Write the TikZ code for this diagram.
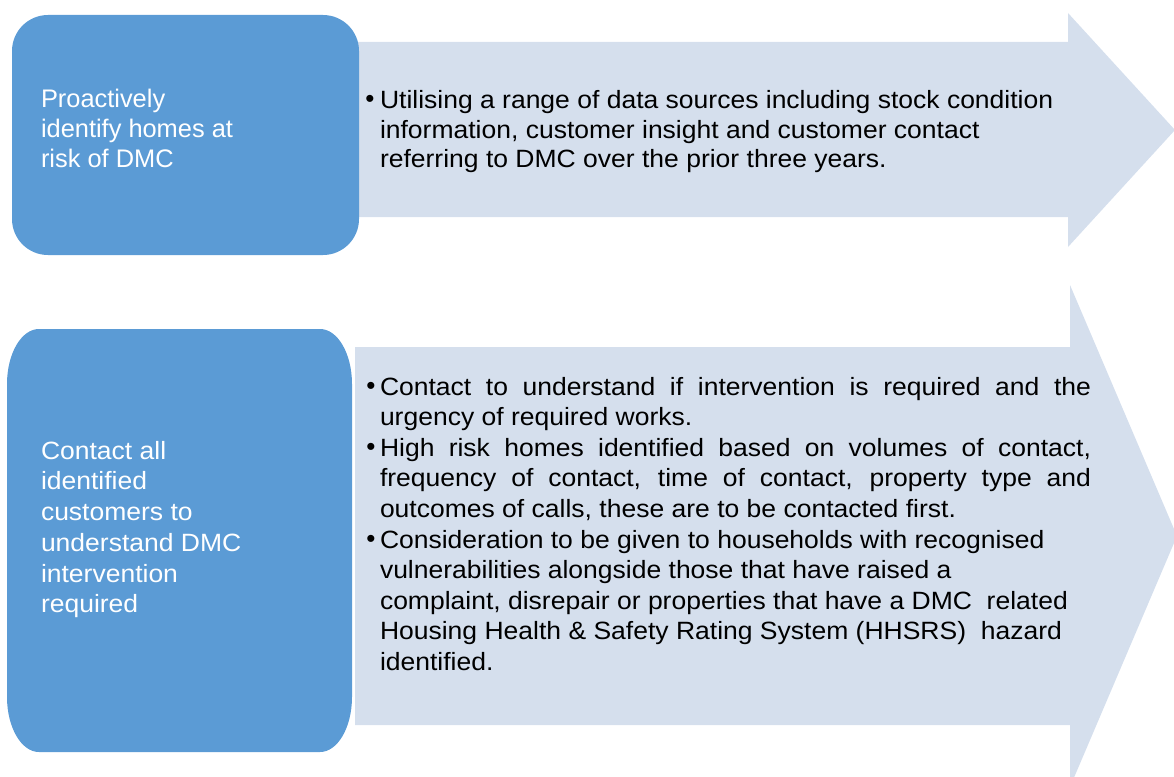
\documentclass[tikz,border=0pt]{standalone}
\usepackage{fontspec}
\setmainfont{Liberation Sans}
\newfontfamily\widefont[FakeStretch=1.06]{Liberation Sans}
\definecolor{boxblue}{HTML}{5B9BD5}
\definecolor{arrowfill}{HTML}{D5DFED}
\newcommand\mainfs{\widefont\fontsize{25}{30}\selectfont}
\newcommand\topfs{\fontsize{25.4}{30}\selectfont}
\newcommand\bulfs{\fontsize{26}{26}\selectfont}
\newcommand\jline[1]{\makebox[711pt][s]{#1}}
\tikzset{
  txtline/.style={anchor=base west, inner sep=0pt, outer sep=0pt, font=\mainfs, text=black},
  wline/.style={txtline, text=white},
  twline/.style={wline, font=\topfs},
  bulnode/.style={anchor=base, inner sep=0pt, outer sep=0pt, font=\bulfs, text=black},
}
\begin{document}
\begin{tikzpicture}[x=1pt,y=-1pt]
\useasboundingbox (0,0) rectangle (1174,776);
\clip (0,0) rectangle (1174,776);
% arrows
\fill[arrowfill] (358,42) -- (1068,42) -- (1068,13) -- (1175,130) -- (1068,247) -- (1068,217) -- (358,217) -- cycle;
\fill[arrowfill] (355,347) -- (1070,347) -- (1070,285) -- (1177,536) -- (1070,787) -- (1070,725) -- (355,725) -- cycle;
% blue boxes
\fill[boxblue] (48,15) -- (323,15) arc[start angle=-90,end angle=0,x radius=36,y radius=36]
  -- (359,219) arc[start angle=0,end angle=90,x radius=36,y radius=36]
  -- (48,255) arc[start angle=90,end angle=180,x radius=36,y radius=36]
  -- (12,51) arc[start angle=180,end angle=270,x radius=36,y radius=36] -- cycle;
\fill[boxblue] (39,329) -- (320,329) arc[start angle=-90,end angle=0,x radius=32,y radius=55]
  -- (352,697) arc[start angle=0,end angle=90,x radius=32,y radius=55]
  -- (39,752) arc[start angle=90,end angle=180,x radius=32,y radius=55]
  -- (7,384) arc[start angle=180,end angle=270,x radius=32,y radius=55] -- cycle;
% left texts
\node[twline] (a1) at (41,107) {Proactively};
\node[twline] (a2) at (41,137) {identify homes at};
\node[twline] (a3) at (41,167) {risk of DMC};
\node[wline] (b1) at (41,459) {Contact all};
\node[wline] (b2) at (41,489) {identified};
\node[wline] (b3) at (41,520) {customers to};
\node[wline] (b4) at (41,551) {understand DMC};
\node[wline] (b5) at (41,582) {intervention};
\node[wline] (b6) at (41,612) {required};
% top arrow text
\node[bulnode] (u0) at (370,107) {•};
\node[txtline] (u1) at (380,108) {Utilising a range of data sources including stock condition};
\node[txtline] (u2) at (380,138) {information, customer insight and customer contact};
\node[txtline] (u3) at (380,167) {referring to DMC over the prior three years.};
% bottom arrow text
\node[bulnode] (v0) at (371,394) {•};
\node[txtline] (v1) at (380,395) {\jline{Contact to understand if intervention is required and the}};
\node[txtline] (v2) at (380,425.6) {urgency of required works.};
\node[bulnode] (w0) at (371,455.2) {•};
\node[txtline] (w1) at (380,456.2) {\jline{High risk homes identified based on volumes of contact,}};
\node[txtline] (w2) at (380,486.8) {\jline{frequency of contact, time of contact, property type and}};
\node[txtline] (w3) at (380,517.4) {outcomes of calls, these are to be contacted first.};
\node[bulnode] (x0) at (371,547) {•};
\node[txtline] (x1) at (380,548) {Consideration to be given to households with recognised};
\node[txtline] (x2) at (380,578.6) {vulnerabilities alongside those that have raised a};
\node[txtline] (x3) at (380,609.2) {complaint, disrepair or properties that have a DMC\ \ related};
\node[txtline] (x4) at (380,639.8) {Housing Health \& Safety Rating System (HHSRS)\ \ hazard};
\node[txtline] (x5) at (380,670.4) {identified.};
\end{tikzpicture}
\end{document}
